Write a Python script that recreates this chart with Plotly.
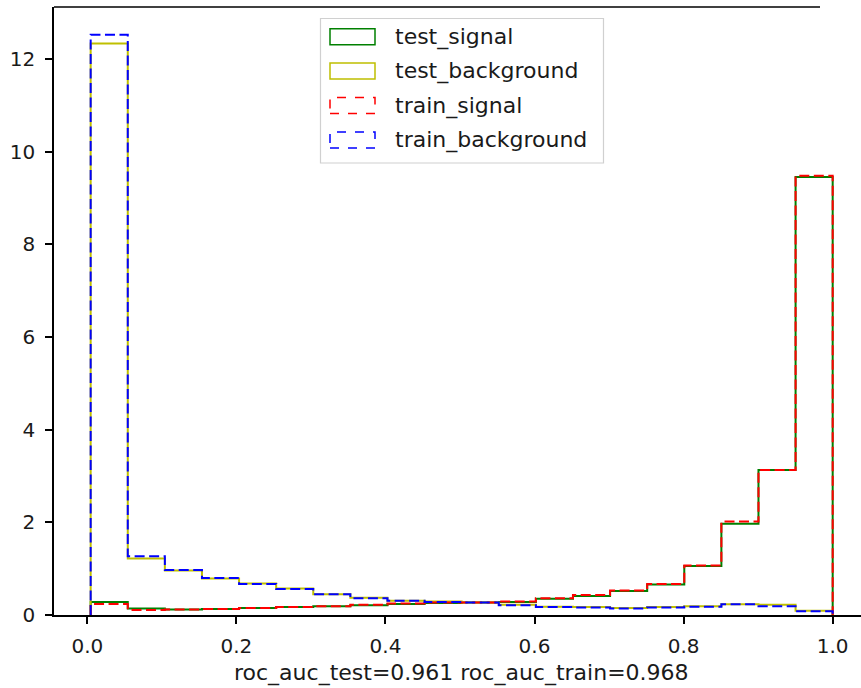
import numpy as np
import plotly.graph_objects as go

# ---- data ----
bin_lo, bin_hi, n_bins = 0.0045, 1.0, 20
series_names = ["test_signal", "test_background", "train_signal", "train_background"]
test_signal = [0.28, 0.14, 0.12, 0.13, 0.15, 0.17, 0.19, 0.21, 0.24, 0.26,
               0.27, 0.28, 0.35, 0.41, 0.52, 0.66, 1.06, 1.97, 3.13, 9.45]
test_background = [12.33, 1.22, 0.96, 0.79, 0.68, 0.57, 0.45, 0.37, 0.31, 0.29,
                   0.27, 0.22, 0.18, 0.17, 0.15, 0.17, 0.19, 0.23, 0.22, 0.09]
train_signal = [0.24, 0.11, 0.12, 0.13, 0.15, 0.17, 0.19, 0.22, 0.25, 0.27,
                0.27, 0.29, 0.36, 0.43, 0.53, 0.67, 1.07, 2.02, 3.13, 9.48]
train_background = [12.52, 1.27, 0.97, 0.80, 0.67, 0.56, 0.45, 0.36, 0.31, 0.28,
                    0.27, 0.21, 0.17, 0.16, 0.14, 0.16, 0.18, 0.23, 0.19, 0.08]
x_ticks = [0.0, 0.2, 0.4, 0.6, 0.8, 1.0]
y_ticks = [0, 2, 4, 6, 8, 10, 12]
x_label = "roc_auc_test=0.961 roc_auc_train=0.968"

colors = {"test_signal": "#008000", "test_background": "#bfbf00",
          "train_signal": "#ff0000", "train_background": "#0000ff"}
dashes = {"test_signal": "solid", "test_background": "solid",
          "train_signal": "10px,4.5px", "train_background": "10px,4.5px"}
values = {"test_signal": test_signal, "test_background": test_background,
          "train_signal": train_signal, "train_background": train_background}

edges = np.linspace(bin_lo, bin_hi, n_bins + 1)


def step_outline(vals):
    xs, ys = [edges[0]], [0.0]
    for i, v in enumerate(vals):
        xs += [edges[i], edges[i + 1]]
        ys += [v, v]
    xs.append(edges[-1])
    ys.append(0.0)
    return xs, ys


W, H = 861, 688
L, R, T, B = 54, 0, 7, 73
PW, PH = W - L - R, H - T - B


def px(xp):
    return (xp - L) / PW


def py(yp):
    return (H - B - yp) / PH


fig = go.Figure()
for name in series_names:
    xs, ys = step_outline(values[name])
    fig.add_trace(go.Scatter(x=xs, y=ys, mode="lines", name=name, showlegend=False,
                             line=dict(color=colors[name], width=2, dash=dashes[name])))

font = "DejaVu Sans, Verdana, sans-serif"
shapes = []
annotations = []
# top spine (visible part)
shapes.append(dict(type="line", xref="paper", yref="paper", x0=0, x1=px(820), y0=1, y1=1,
                   line=dict(color="black", width=1.5)))
# legend frame
shapes.append(dict(type="rect", xref="paper", yref="paper", x0=px(320.5), x1=px(603.5),
                   y0=py(163), y1=py(18.5), fillcolor="rgba(255,255,255,0.8)",
                   line=dict(color="#d0d0d0", width=1.2)))
row_centers = [36.7, 71.0, 105.5, 140.0]
for name, yc in zip(series_names, row_centers):
    shapes.append(dict(type="rect", xref="paper", yref="paper", x0=px(330), x1=px(375),
                       y0=py(yc + 8), y1=py(yc - 8), fillcolor="rgba(0,0,0,0)",
                       line=dict(color=colors[name], width=1.5,
                                 dash="dash" if "train" in name else "solid")))
    annotations.append(dict(xref="paper", yref="paper", x=px(393), y=py(yc), text=name,
                            showarrow=False, xanchor="left", yanchor="middle",
                            font=dict(family=font, size=22, color="#1a1a1a")))
annotations.append(dict(xref="paper", yref="paper", x=px(461.5), y=py(673), text=x_label,
                        showarrow=False, xanchor="center", yanchor="middle", borderpad=0,
                        font=dict(family=font, size=22, color="#1a1a1a")))

fig.update_layout(
    width=W, height=H, margin=dict(l=L, r=R, t=T, b=B),
    paper_bgcolor="white", plot_bgcolor="white",
    showlegend=False, shapes=shapes, annotations=annotations,
    font=dict(family=font, size=20, color="#1a1a1a"),
)
fig.update_xaxes(range=[-0.0447, 1.038], tickvals=x_ticks, tickformat=".1f",
                 showgrid=False, zeroline=False, showline=True, linecolor="black",
                 linewidth=1.5, ticks="outside", ticklen=7, tickwidth=1.5, tickcolor="black",
                 ticklabelstandoff=5,
                 tickfont=dict(family=font, size=20, color="#1a1a1a"))
fig.update_yaxes(range=[0, 13.12], tickvals=y_ticks,
                 showgrid=False, zeroline=False, showline=True, linecolor="black",
                 linewidth=1.5, ticks="outside", ticklen=7, tickwidth=1.5, tickcolor="black",
                 ticklabelstandoff=6,
                 tickfont=dict(family=font, size=20, color="#1a1a1a"))

fig.write_html("out.html")
